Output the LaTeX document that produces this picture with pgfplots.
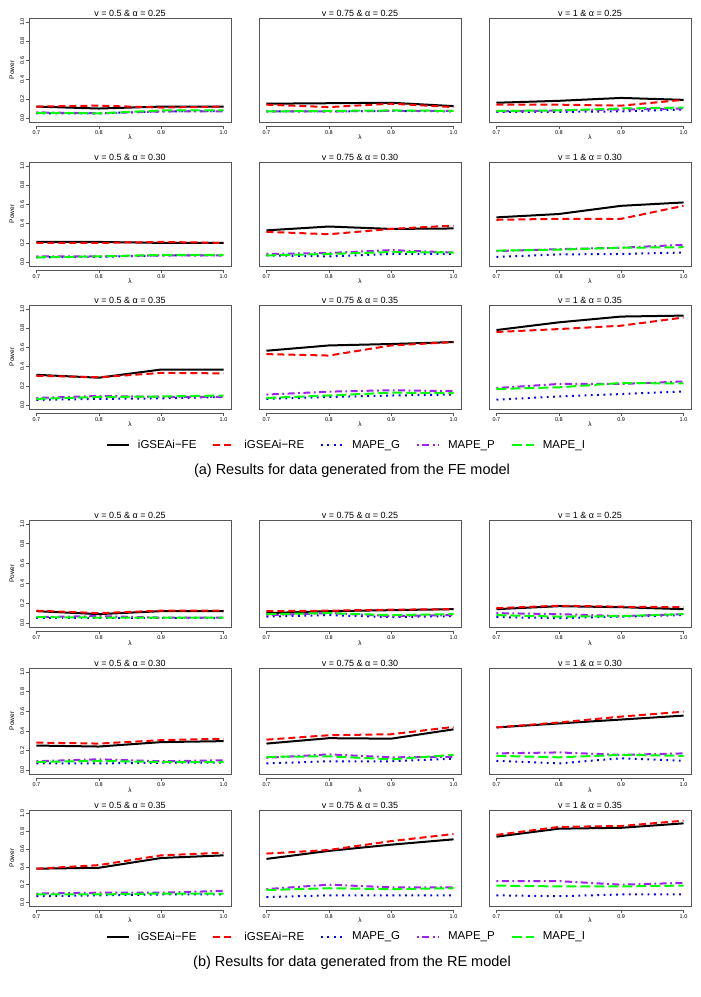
\documentclass[border=0pt]{standalone}
\usepackage{fontspec}
\setmainfont{Liberation Sans}
\usepackage{pgfplots}
\pgfplotsset{compat=1.18}
\definecolor{rred}{HTML}{FF0000}
\definecolor{rblue}{HTML}{0000FF}
\definecolor{rpurple}{HTML}{A020F0}
\definecolor{rgreen}{HTML}{00FF00}
\definecolor{frame}{HTML}{555555}
\pgfplotsset{
  fe/.style={black, solid, line width=2pt},
  re/.style={rred, line width=2pt, dash pattern=on 7pt off 4pt},
  mg/.style={rblue, line width=2pt, dash pattern=on 1.8pt off 4.5pt},
  mp/.style={rpurple, line width=2pt, dash pattern=on 1.8pt off 3.5pt on 7pt off 3.5pt},
  mi/.style={rgreen, line width=2pt, dash pattern=on 10pt off 4pt},
  panel/.style={
    scale only axis, width=202pt, anchor=north west,
    xmin=0.688, xmax=1.012, ymin=-0.04, ymax=1.04,
    axis x line*=bottom, axis y line*=left,
    axis x line shift=4pt,
    x axis line style={draw=none}, y axis line style={draw=none},
    xtick={0.7,0.8,0.9,1.0}, ytick=\empty,
    xticklabel style={font=\fontsize{5.5}{6}\selectfont, inner sep=1pt},
    xticklabel={\pgfmathprintnumber[fixed,fixed zerofill,precision=1,assume math mode=true]{\tick}},
    tick align=outside, major tick length=3pt,
    tick style={frame, line width=0.6pt},
    xlabel={λ},
    xlabel style={font=\fontsize{6.5}{7}\selectfont, at={(axis description cs:0.5,-0.15)}, anchor=center},
    title style={font=\fontsize{9}{10}\selectfont, at={(0.5,1)}, anchor=south, yshift=-5.5pt, inner sep=1pt},
    clip=false,
    after end axis/.code={
      \draw[frame, line width=0.8pt] (rel axis cs:0,0) rectangle (rel axis cs:1,1);
      \draw[frame, line width=0.6pt] ([yshift=-4pt]axis cs:0.7,-0.04) -- ([yshift=-4pt]axis cs:1.0,-0.04);
    },
  },
  leftpanel/.style={
    ytick={0,0.2,0.4,0.6,0.8,1},
    yticklabel={\pgfmathprintnumber[fixed,fixed zerofill,precision=1,assume math mode=true]{\tick}},
    yticklabel style={font=\fontsize{5.5}{6}\selectfont, rotate=90, anchor=south, inner sep=1.5pt},
    ylabel={Power},
    ylabel style={font=\fontsize{6.5}{7}\selectfont, at={(axis description cs:-0.085,0.5)}, anchor=center, rotate=0},
  },
  mylegend/.style={
    legend entries={iGSEAi−FE,iGSEAi−RE,MAPE\_G,MAPE\_P,MAPE\_I},
    legend columns=5,
    legend cell align=left,
    legend image code/.code={\draw[##1] (0pt,0pt) -- (22pt,0pt);},
    legend style={draw=none, fill=none, anchor=center,
      font=\fontsize{11.5}{13}\selectfont,
      /tikz/every odd column/.append style={column sep=6pt},
      /tikz/every even column/.append style={column sep=14pt}},
  },
}
\begin{document}
\begin{tikzpicture}
\useasboundingbox (0,0) rectangle (701pt,-997pt);
% ================= (a) FE model =================
\begin{axis}[panel, leftpanel, height=104pt, at={(29pt,-18pt)}, title={v = 0.5 \& α = 0.25}]
\addplot[fe] coordinates {(0.7,0.12)(0.8,0.10)(0.9,0.12)(1.0,0.12)};
\addplot[re] coordinates {(0.7,0.12)(0.8,0.13)(0.9,0.11)(1.0,0.12)};
\addplot[mg] coordinates {(0.7,0.05)(0.8,0.05)(0.9,0.07)(1.0,0.075)};
\addplot[mp] coordinates {(0.7,0.06)(0.8,0.05)(0.9,0.07)(1.0,0.07)};
\addplot[mi] coordinates {(0.7,0.055)(0.8,0.05)(0.9,0.08)(1.0,0.08)};
\end{axis}
\begin{axis}[panel, height=104pt, at={(259pt,-18pt)}, title={v = 0.75 \& α = 0.25}]
\addplot[fe] coordinates {(0.7,0.15)(0.8,0.155)(0.9,0.16)(1.0,0.125)};
\addplot[re] coordinates {(0.7,0.14)(0.8,0.115)(0.9,0.15)(1.0,0.115)};
\addplot[mg] coordinates {(0.7,0.07)(0.8,0.07)(0.9,0.075)(1.0,0.07)};
\addplot[mp] coordinates {(0.7,0.07)(0.8,0.07)(0.9,0.075)(1.0,0.075)};
\addplot[mi] coordinates {(0.7,0.07)(0.8,0.075)(0.9,0.08)(1.0,0.075)};
\end{axis}
\begin{axis}[panel, height=104pt, at={(489pt,-18pt)}, title={v = 1 \& α = 0.25}]
\addplot[fe] coordinates {(0.7,0.16)(0.8,0.18)(0.9,0.21)(1.0,0.19)};
\addplot[re] coordinates {(0.7,0.14)(0.8,0.14)(0.9,0.13)(1.0,0.19)};
\addplot[mg] coordinates {(0.7,0.065)(0.8,0.065)(0.9,0.07)(1.0,0.09)};
\addplot[mp] coordinates {(0.7,0.07)(0.8,0.08)(0.9,0.09)(1.0,0.10)};
\addplot[mi] coordinates {(0.7,0.075)(0.8,0.08)(0.9,0.10)(1.0,0.11)};
\end{axis}
\begin{axis}[panel, leftpanel, height=104pt, at={(29pt,-162pt)}, title={v = 0.5 \& α = 0.30}]
\addplot[fe] coordinates {(0.7,0.21)(0.8,0.21)(0.9,0.20)(1.0,0.20)};
\addplot[re] coordinates {(0.7,0.20)(0.8,0.20)(0.9,0.21)(1.0,0.20)};
\addplot[mg] coordinates {(0.7,0.05)(0.8,0.055)(0.9,0.07)(1.0,0.07)};
\addplot[mp] coordinates {(0.7,0.06)(0.8,0.06)(0.9,0.07)(1.0,0.07)};
\addplot[mi] coordinates {(0.7,0.05)(0.8,0.06)(0.9,0.075)(1.0,0.075)};
\end{axis}
\begin{axis}[panel, height=104pt, at={(259pt,-162pt)}, title={v = 0.75 \& α = 0.30}]
\addplot[fe] coordinates {(0.7,0.33)(0.8,0.37)(0.9,0.345)(1.0,0.35)};
\addplot[re] coordinates {(0.7,0.315)(0.8,0.29)(0.9,0.345)(1.0,0.38)};
\addplot[mg] coordinates {(0.7,0.07)(0.8,0.06)(0.9,0.085)(1.0,0.085)};
\addplot[mp] coordinates {(0.7,0.085)(0.8,0.095)(0.9,0.125)(1.0,0.10)};
\addplot[mi] coordinates {(0.7,0.07)(0.8,0.085)(0.9,0.105)(1.0,0.10)};
\end{axis}
\begin{axis}[panel, height=104pt, at={(489pt,-162pt)}, title={v = 1 \& α = 0.30}]
\addplot[fe] coordinates {(0.7,0.465)(0.8,0.50)(0.9,0.585)(1.0,0.62)};
\addplot[re] coordinates {(0.7,0.44)(0.8,0.45)(0.9,0.45)(1.0,0.585)};
\addplot[mg] coordinates {(0.7,0.055)(0.8,0.08)(0.9,0.085)(1.0,0.10)};
\addplot[mp] coordinates {(0.7,0.115)(0.8,0.135)(0.9,0.15)(1.0,0.18)};
\addplot[mi] coordinates {(0.7,0.12)(0.8,0.13)(0.9,0.15)(1.0,0.155)};
\end{axis}
\begin{axis}[panel, leftpanel, height=104pt, at={(29pt,-305pt)}, title={v = 0.5 \& α = 0.35}]
\addplot[fe] coordinates {(0.7,0.315)(0.8,0.285)(0.9,0.37)(1.0,0.37)};
\addplot[re] coordinates {(0.7,0.305)(0.8,0.29)(0.9,0.335)(1.0,0.33)};
\addplot[mg] coordinates {(0.7,0.055)(0.8,0.065)(0.9,0.07)(1.0,0.085)};
\addplot[mp] coordinates {(0.7,0.075)(0.8,0.095)(0.9,0.087)(1.0,0.087)};
\addplot[mi] coordinates {(0.7,0.065)(0.8,0.085)(0.9,0.09)(1.0,0.10)};
\end{axis}
\begin{axis}[panel, mylegend, legend style={at={(0.433,-0.346)}}, height=104pt, at={(259pt,-305pt)}, title={v = 0.75 \& α = 0.35}]
\addplot[fe] coordinates {(0.7,0.565)(0.8,0.62)(0.9,0.635)(1.0,0.655)};
\addplot[re] coordinates {(0.7,0.53)(0.8,0.515)(0.9,0.62)(1.0,0.655)};
\addplot[mg] coordinates {(0.7,0.065)(0.8,0.085)(0.9,0.10)(1.0,0.11)};
\addplot[mp] coordinates {(0.7,0.11)(0.8,0.14)(0.9,0.155)(1.0,0.145)};
\addplot[mi] coordinates {(0.7,0.075)(0.8,0.10)(0.9,0.13)(1.0,0.125)};
\end{axis}
\begin{axis}[panel, height=104pt, at={(489pt,-305pt)}, title={v = 1 \& α = 0.35}]
\addplot[fe] coordinates {(0.7,0.78)(0.8,0.86)(0.9,0.92)(1.0,0.93)};
\addplot[re] coordinates {(0.7,0.76)(0.8,0.79)(0.9,0.825)(1.0,0.91)};
\addplot[mg] coordinates {(0.7,0.057)(0.8,0.09)(0.9,0.115)(1.0,0.143)};
\addplot[mp] coordinates {(0.7,0.178)(0.8,0.22)(0.9,0.22)(1.0,0.246)};
\addplot[mi] coordinates {(0.7,0.168)(0.8,0.185)(0.9,0.23)(1.0,0.225)};
\end{axis}
\node[font=\fontsize{14.5}{16}\selectfont] at (352pt,-471pt) {(a) Results for data generated from the FE model};
% ================= (b) RE model =================
\begin{axis}[panel, leftpanel, height=107pt, at={(29pt,-520pt)}, title={v = 0.5 \& α = 0.25}]
\addplot[fe] coordinates {(0.7,0.12)(0.8,0.09)(0.9,0.12)(1.0,0.12)};
\addplot[re] coordinates {(0.7,0.125)(0.8,0.10)(0.9,0.125)(1.0,0.125)};
\addplot[mg] coordinates {(0.7,0.05)(0.8,0.05)(0.9,0.05)(1.0,0.05)};
\addplot[mp] coordinates {(0.7,0.06)(0.8,0.07)(0.9,0.055)(1.0,0.055)};
\addplot[mi] coordinates {(0.7,0.06)(0.8,0.055)(0.9,0.055)(1.0,0.055)};
\end{axis}
\begin{axis}[panel, height=107pt, at={(259pt,-520pt)}, title={v = 0.75 \& α = 0.25}]
\addplot[fe] coordinates {(0.7,0.10)(0.8,0.12)(0.9,0.13)(1.0,0.14)};
\addplot[re] coordinates {(0.7,0.12)(0.8,0.125)(0.9,0.135)(1.0,0.14)};
\addplot[mg] coordinates {(0.7,0.065)(0.8,0.08)(0.9,0.06)(1.0,0.07)};
\addplot[mp] coordinates {(0.7,0.08)(0.8,0.10)(0.9,0.07)(1.0,0.08)};
\addplot[mi] coordinates {(0.7,0.09)(0.8,0.10)(0.9,0.08)(1.0,0.09)};
\end{axis}
\begin{axis}[panel, height=107pt, at={(489pt,-520pt)}, title={v = 1 \& α = 0.25}]
\addplot[fe] coordinates {(0.7,0.14)(0.8,0.17)(0.9,0.16)(1.0,0.14)};
\addplot[re] coordinates {(0.7,0.15)(0.8,0.175)(0.9,0.165)(1.0,0.16)};
\addplot[mg] coordinates {(0.7,0.06)(0.8,0.05)(0.9,0.065)(1.0,0.08)};
\addplot[mp] coordinates {(0.7,0.10)(0.8,0.09)(0.9,0.07)(1.0,0.09)};
\addplot[mi] coordinates {(0.7,0.08)(0.8,0.065)(0.9,0.07)(1.0,0.09)};
\end{axis}
\begin{axis}[panel, leftpanel, height=106pt, at={(29pt,-668pt)}, title={v = 0.5 \& α = 0.30}]
\addplot[fe] coordinates {(0.7,0.25)(0.8,0.24)(0.9,0.285)(1.0,0.295)};
\addplot[re] coordinates {(0.7,0.28)(0.8,0.27)(0.9,0.305)(1.0,0.32)};
\addplot[mg] coordinates {(0.7,0.068)(0.8,0.068)(0.9,0.075)(1.0,0.075)};
\addplot[mp] coordinates {(0.7,0.09)(0.8,0.11)(0.9,0.09)(1.0,0.10)};
\addplot[mi] coordinates {(0.7,0.083)(0.8,0.093)(0.9,0.083)(1.0,0.08)};
\end{axis}
\begin{axis}[panel, height=106pt, at={(259pt,-668pt)}, title={v = 0.75 \& α = 0.30}]
\addplot[fe] coordinates {(0.7,0.27)(0.8,0.325)(0.9,0.32)(1.0,0.415)};
\addplot[re] coordinates {(0.7,0.31)(0.8,0.355)(0.9,0.365)(1.0,0.44)};
\addplot[mg] coordinates {(0.7,0.068)(0.8,0.09)(0.9,0.09)(1.0,0.115)};
\addplot[mp] coordinates {(0.7,0.125)(0.8,0.16)(0.9,0.13)(1.0,0.135)};
\addplot[mi] coordinates {(0.7,0.135)(0.8,0.14)(0.9,0.11)(1.0,0.155)};
\end{axis}
\begin{axis}[panel, height=106pt, at={(489pt,-668pt)}, title={v = 1 \& α = 0.30}]
\addplot[fe] coordinates {(0.7,0.435)(0.8,0.475)(0.9,0.515)(1.0,0.555)};
\addplot[re] coordinates {(0.7,0.435)(0.8,0.485)(0.9,0.545)(1.0,0.595)};
\addplot[mg] coordinates {(0.7,0.095)(0.8,0.068)(0.9,0.12)(1.0,0.095)};
\addplot[mp] coordinates {(0.7,0.17)(0.8,0.18)(0.9,0.155)(1.0,0.17)};
\addplot[mi] coordinates {(0.7,0.145)(0.8,0.13)(0.9,0.155)(1.0,0.145)};
\end{axis}
\begin{axis}[panel, leftpanel, height=96pt, at={(29pt,-810pt)}, title={v = 0.5 \& α = 0.35}]
\addplot[fe] coordinates {(0.7,0.38)(0.8,0.39)(0.9,0.50)(1.0,0.53)};
\addplot[re] coordinates {(0.7,0.38)(0.8,0.42)(0.9,0.53)(1.0,0.56)};
\addplot[mg] coordinates {(0.7,0.07)(0.8,0.08)(0.9,0.09)(1.0,0.09)};
\addplot[mp] coordinates {(0.7,0.10)(0.8,0.11)(0.9,0.11)(1.0,0.13)};
\addplot[mi] coordinates {(0.7,0.09)(0.8,0.09)(0.9,0.10)(1.0,0.10)};
\end{axis}
\begin{axis}[panel, mylegend, legend style={at={(0.433,-0.32)}}, height=96pt, at={(259pt,-810pt)}, title={v = 0.75 \& α = 0.35}]
\addplot[fe] coordinates {(0.7,0.49)(0.8,0.58)(0.9,0.65)(1.0,0.71)};
\addplot[re] coordinates {(0.7,0.55)(0.8,0.59)(0.9,0.69)(1.0,0.77)};
\addplot[mg] coordinates {(0.7,0.06)(0.8,0.08)(0.9,0.08)(1.0,0.08)};
\addplot[mp] coordinates {(0.7,0.15)(0.8,0.20)(0.9,0.17)(1.0,0.17)};
\addplot[mi] coordinates {(0.7,0.14)(0.8,0.16)(0.9,0.15)(1.0,0.16)};
\end{axis}
\begin{axis}[panel, height=96pt, at={(489pt,-810pt)}, title={v = 1 \& α = 0.35}]
\addplot[fe] coordinates {(0.7,0.74)(0.8,0.83)(0.9,0.84)(1.0,0.89)};
\addplot[re] coordinates {(0.7,0.76)(0.8,0.85)(0.9,0.86)(1.0,0.92)};
\addplot[mg] coordinates {(0.7,0.08)(0.8,0.07)(0.9,0.09)(1.0,0.09)};
\addplot[mp] coordinates {(0.7,0.24)(0.8,0.24)(0.9,0.20)(1.0,0.22)};
\addplot[mi] coordinates {(0.7,0.19)(0.8,0.18)(0.9,0.18)(1.0,0.19)};
\end{axis}
\node[font=\fontsize{14.5}{16}\selectfont] at (352pt,-963pt) {(b) Results for data generated from the RE model};
\end{tikzpicture}
\end{document}
